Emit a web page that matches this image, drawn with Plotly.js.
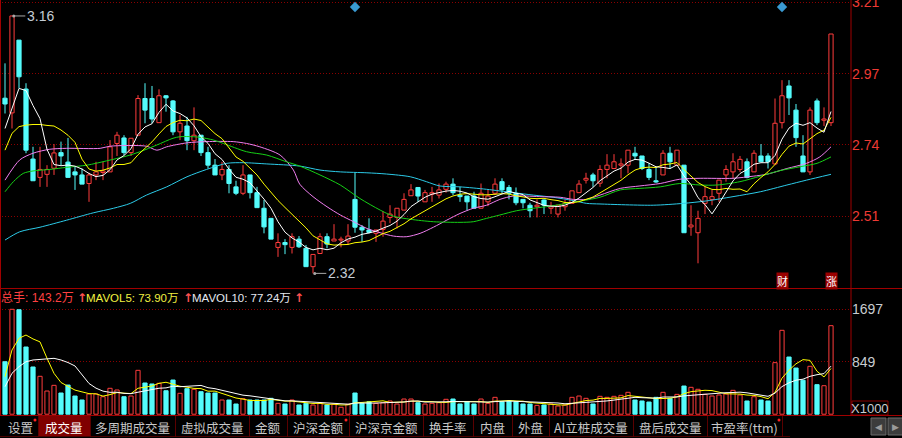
<!DOCTYPE html>
<html><head><meta charset="utf-8">
<script src="https://cdn.plot.ly/plotly-3.0.1.min.js"></script>
<style>html,body{margin:0;padding:0;background:#000;overflow:hidden}#chart{width:902px;height:438px}</style>
</head><body><div id="chart"></div>
<script>
// ---------------- DATA ----------------
const openP = [2.893,2.845,3.083,2.923,2.694,2.634,2.644,2.664,2.715,2.684,
2.652,2.642,2.614,2.642,2.650,2.652,2.745,2.763,2.715,2.772,
2.892,2.892,2.813,2.901,2.884,2.783,2.802,2.754,2.772,2.715,
2.674,2.642,2.660,2.603,2.582,2.642,2.584,2.533,2.500,2.405,
2.421,2.405,2.432,2.402,2.342,2.385,2.440,2.426,2.429,2.426,
2.562,2.471,2.462,2.451,2.464,2.503,2.503,2.527,2.574,2.601,
2.554,2.579,2.576,2.595,2.612,2.576,2.573,2.573,2.533,2.554,
2.582,2.620,2.601,2.582,2.562,2.543,2.538,2.560,2.533,2.514,
2.538,2.549,2.584,2.625,2.642,2.615,2.660,2.663,2.674,2.674,
2.713,2.704,2.660,2.623,2.642,2.713,2.674,2.674,2.472,2.453,
2.549,2.562,2.582,2.642,2.652,2.660,2.685,2.652,2.704,2.704,
2.678,2.813,2.933,2.854,2.704,2.652,2.884,2.821,2.813];
const closeP = [2.874,3.162,2.963,2.723,2.623,2.660,2.660,2.714,2.704,2.634,
2.642,2.612,2.642,2.652,2.655,2.734,2.772,2.715,2.762,2.892,
2.854,2.825,2.901,2.894,2.783,2.811,2.754,2.772,2.715,2.674,
2.642,2.660,2.614,2.582,2.642,2.584,2.535,2.472,2.432,2.421,
2.414,2.440,2.407,2.342,2.382,2.440,2.416,2.432,2.432,2.442,
2.471,2.462,2.454,2.462,2.491,2.514,2.533,2.562,2.593,2.573,
2.584,2.584,2.593,2.612,2.584,2.571,2.554,2.533,2.582,2.573,
2.612,2.593,2.582,2.551,2.551,2.525,2.543,2.543,2.538,2.543,
2.549,2.590,2.612,2.631,2.623,2.660,2.674,2.685,2.678,2.723,
2.704,2.663,2.634,2.619,2.713,2.685,2.723,2.453,2.478,2.500,
2.571,2.571,2.625,2.660,2.685,2.693,2.634,2.713,2.685,2.685,
2.811,2.901,2.894,2.764,2.652,2.854,2.813,2.825,3.103];
const highP = [3.007,3.162,3.083,2.942,2.734,2.734,2.674,2.743,2.751,2.763,
2.669,2.663,2.649,2.685,2.685,2.756,2.783,2.772,2.762,2.903,
2.942,2.933,2.922,2.903,2.887,2.838,2.832,2.863,2.772,2.734,
2.694,2.685,2.674,2.623,2.674,2.642,2.603,2.560,2.500,2.451,
2.432,2.451,2.442,2.413,2.382,2.451,2.451,2.481,2.440,2.481,
2.649,2.478,2.500,2.462,2.524,2.543,2.533,2.582,2.612,2.601,
2.593,2.603,2.614,2.620,2.631,2.603,2.573,2.587,2.614,2.593,
2.631,2.631,2.609,2.601,2.562,2.551,2.562,2.562,2.554,2.543,
2.560,2.590,2.625,2.649,2.649,2.674,2.710,2.710,2.696,2.723,
2.734,2.704,2.680,2.669,2.723,2.734,2.723,2.674,2.543,2.525,
2.603,2.593,2.625,2.674,2.713,2.704,2.696,2.723,2.743,2.713,
2.892,2.952,2.952,2.874,2.772,2.863,2.892,2.863,3.103];
const lowP = [2.843,2.794,2.926,2.713,2.623,2.603,2.603,2.642,2.674,2.634,
2.593,2.612,2.554,2.625,2.625,2.652,2.704,2.707,2.704,2.772,
2.811,2.811,2.813,2.849,2.772,2.756,2.723,2.723,2.704,2.663,
2.642,2.625,2.582,2.576,2.576,2.565,2.535,2.451,2.432,2.374,
2.383,2.385,2.403,2.342,2.320,2.385,2.402,2.426,2.405,2.413,
2.453,2.423,2.451,2.423,2.440,2.484,2.467,2.527,2.574,2.554,
2.554,2.554,2.565,2.584,2.576,2.554,2.525,2.533,2.533,2.540,
2.576,2.582,2.562,2.543,2.533,2.503,2.503,2.514,2.514,2.503,
2.525,2.549,2.584,2.614,2.603,2.603,2.631,2.663,2.631,2.647,
2.691,2.658,2.625,2.616,2.642,2.663,2.674,2.453,2.443,2.353,
2.514,2.543,2.554,2.620,2.631,2.652,2.631,2.652,2.685,2.663,
2.674,2.794,2.838,2.734,2.652,2.642,2.805,2.802,2.802];
// volume in units of 1000 shares (X1000)
const volume = [849,1697,1690,1087,764,613,375,467,343,472,
294,230,327,327,283,419,392,283,294,710,
505,489,500,380,553,338,413,403,364,343,
343,230,230,165,251,230,230,230,257,176,
165,230,149,176,149,176,149,160,112,160,
343,176,202,176,186,214,165,246,246,186,
165,176,186,241,246,165,202,165,246,176,
273,202,214,202,165,165,143,149,165,133,
149,273,294,257,165,289,273,289,305,354,
230,214,197,273,354,257,321,456,435,403,
321,294,311,327,386,311,214,283,230,214,
834,1357,925,747,550,775,478,461,1432];

// moving-average values before the window is full (they use earlier history)
const ma5Early  = [2.794,2.858,2.925,2.918];
const ma10Early = [2.723,2.778,2.800,2.805,2.807,2.807,2.804,2.802,2.789];
const mavol5Early  = [607,1039,1228,1281];
const mavol10Early = [445,662,769,849,877,888,904,904,877];

// longer moving averages (day index, price)
const ma20Idx = [0,1.2,2.6,4,6.4,8.8,11.7,14.5,17.4,19.3,21.7,24,25,26.9,27.9,29.8,31.2,34.5,37.4,40.2,42.1,45,47.9,50.7,53.6,55.5,57.9,61.2,65,66.9,68.8,70.7,73.1,75.5,77.9,80.2,82.6,85,87.9,90.7,93.6,96.4,99.3,101.7,105,107.9,110.7,113.6,116,118];
const ma20Val = [2.587,2.620,2.647,2.655,2.660,2.667,2.674,2.688,2.704,2.718,2.740,2.762,2.767,2.767,2.765,2.756,2.745,2.718,2.707,2.685,2.671,2.642,2.609,2.565,2.527,2.507,2.497,2.489,2.487,2.489,2.500,2.511,2.525,2.533,2.540,2.549,2.558,2.569,2.593,2.598,2.603,2.614,2.609,2.609,2.620,2.638,2.656,2.669,2.680,2.701];
const ma30Idx = [0,2.1,4,6.4,8.8,13.6,15,20.2,21.7,23.1,26,28.8,32.6,34.5,36.4,39.3,41.2,42.1,44,46,47.9,49.8,51.7,53.6,55.5,57.4,59.3,61.2,63.1,65,66.9,68.8,70.7,72.6,74.5,76.4,79.3,81.2,83.1,85,87.9,90.7,93.6,96.4,99.3,104,106.9,108.8,111.7,114.5,116.4,118];
const ma30Val = [2.625,2.691,2.713,2.726,2.729,2.729,2.736,2.736,2.723,2.734,2.747,2.751,2.751,2.745,2.734,2.707,2.658,2.612,2.571,2.538,2.511,2.489,2.467,2.453,2.442,2.440,2.451,2.471,2.494,2.516,2.533,2.543,2.562,2.573,2.573,2.571,2.569,2.562,2.562,2.576,2.598,2.606,2.614,2.628,2.631,2.631,2.638,2.644,2.663,2.680,2.701,2.734];
const ma60Idx = [0,2.1,5,8.8,12.6,15.5,17.9,20.2,23.1,26,28.8,31.7,34.1,37.4,42.1,45,47.9,51.7,54.5,57.9,60.2,62.1,65,68.8,72.6,75.5,78.3,81.2,83.1,85,92.6,96.9,100.2,104,107.9,111.7,114.5,118];
const ma60Val = [2.429,2.456,2.471,2.494,2.518,2.533,2.549,2.576,2.603,2.636,2.660,2.680,2.682,2.678,2.671,2.658,2.652,2.649,2.645,2.636,2.620,2.606,2.603,2.595,2.584,2.576,2.569,2.558,2.549,2.547,2.543,2.549,2.557,2.571,2.587,2.609,2.625,2.644];

const eventIdx = [50,111];
const badgeIdx = [111,118];
const badgeText = ['财','涨'];
const legendTotal = '143.2万', legendMav5 = '73.90万', legendMav10 = '77.24万';
const priceTicks = [2.5067,2.74,2.9733,3.2067];
const volTicks = [849,1697];
const tabLabels = ['设置','成交量','多周期成交量','虚拟成交量','金额','沪深金额','沪深京金额','换手率','内盘','外盘','AI立桩成交量','盘后成交量','市盈率(ttm)'];
const tabDot = [true,false,false,false,false,true,false,false,false,false,false,false,true];
const tabSelected = 1;

// ---------------- LAYOUT GEOMETRY ----------------
const L = 2, R = 851, H = 416, W = 902;
const px = x => (x - L) / (R - L);
const py = y => (H - y) / H;
const tabEdges = [2,38,90,175,249,287,349,423,473,512,549,633,707,782];
const FONT = "Arial, 'Liberation Sans', 'Noto Sans CJK SC', sans-serif";
const CJK = "'Noto Sans CJK SC', Arial, sans-serif";
const UP = '#ff3c3c', DN = '#54fcfc', GRID = '#8a0000', FRAME = '#a00000';

const N = closeP.length;
const idx = [...Array(N).keys()];
const isUp = idx.map(i => closeP[i] >= openP[i]);

function movAvg(arr, n, early) {
  return arr.map((v, i) => {
    if (i < n - 1) return early[i];
    let s = 0; for (let k = i - n + 1; k <= i; k++) s += arr[k];
    return s / n;
  });
}
const ma5 = movAvg(closeP, 5, ma5Early);
const ma10 = movAvg(closeP, 10, ma10Early);
const mavol5 = movAvg(volume, 5, mavol5Early);
const mavol10 = movAvg(volume, 10, mavol10Early);

const traces = [];
function wick(up) {
  const xs = [], ys = [];
  idx.forEach(i => {
    if (isUp[i] !== up) return;
    const top = Math.max(openP[i], closeP[i]), bot = Math.min(openP[i], closeP[i]);
    xs.push(i, i, null, i, i, null);
    ys.push(highP[i], top, null, bot, lowP[i], null);
  });
  return {type:'scatter', mode:'lines', x:xs, y:ys, line:{color: up?UP:DN, width:1},
    xaxis:'x', yaxis:'y', hoverinfo:'skip', showlegend:false};
}
function body(up) {
  const xs = [], base = [], h = [];
  idx.forEach(i => {
    if (isUp[i] !== up) return;
    xs.push(i);
    base.push(Math.min(openP[i], closeP[i]));
    h.push(Math.max(Math.abs(closeP[i] - openP[i]), 0.0012));
  });
  return {type:'bar', x:xs, base:base, y:h, width:0.6,
    marker:{color: up?'#000000':DN, line:{color: up?UP:DN, width:1}},
    xaxis:'x', yaxis:'y', hoverinfo:'skip', showlegend:false};
}
function volBars(up) {
  const xs = [], ys = [];
  idx.forEach(i => { if (isUp[i] === up) { xs.push(i); ys.push(volume[i]); } });
  return {type:'bar', x:xs, y:ys, width:0.6,
    marker:{color: up?'#000000':DN, line:{color: up?UP:DN, width:1}},
    xaxis:'x', yaxis:'y2', hoverinfo:'skip', showlegend:false};
}
traces.push(body(true), body(false), volBars(true), volBars(false));
traces.push(wick(true), wick(false));

function line(x, y, color, ax, spline) {
  return {type:'scatter', mode:'lines', x:x, y:y,
    line:{color:color, width:1, shape: spline?'spline':'linear', smoothing: spline?0.8:undefined},
    xaxis:'x', yaxis:ax, hoverinfo:'skip', showlegend:false};
}
traces.push(line(ma60Idx, ma60Val, '#2ccbe8', 'y', true));
traces.push(line(ma30Idx, ma30Val, '#f07ef0', 'y', true));
traces.push(line(ma20Idx, ma20Val, '#16d016', 'y', true));
traces.push(line(idx, ma10, '#ffff00', 'y', false));
traces.push(line(idx, ma5, '#ffffff', 'y', false));
traces.push(line(idx, mavol5, '#ffff00', 'y2', false));
traces.push(line(idx, mavol10, '#ffffff', 'y2', false));

const yTop = 3.2142, yBot = 2.2722;
traces.push({type:'scatter', mode:'markers', x:eventIdx, y:eventIdx.map(() => yTop - 0.023),
  marker:{symbol:'diamond', size:8, color:'#3a9ad2'}, xaxis:'x', yaxis:'y', hoverinfo:'skip', showlegend:false});

// ---------------- SHAPES & ANNOTATIONS ----------------
const shapes = [], ann = [];
const pl = (x0,y0,x1,y1,color,width,dash) => shapes.push({type:'line', xref:'paper', yref:'paper',
  x0:px(x0), y0:py(y0), x1:px(x1), y1:py(y1), line:{color:color, width:width||1, dash:dash||'solid'}, layer:'above'});
const prect = (x0,y0,x1,y1,fill,lc) => shapes.push({type:'rect', xref:'paper', yref:'paper',
  x0:px(x0), y0:py(y0), x1:px(x1), y1:py(y1), fillcolor:fill, line:{color:lc||fill, width: lc?1:0}, layer:'below'});
const ptext = (x,y,text,color,size,xanchor,family,extra) => ann.push(Object.assign({xref:'paper', yref:'paper',
  x:px(x), y:py(y), text:text, showarrow:false, xanchor:xanchor||'left', yanchor:'middle',
  font:{family:family||FONT, size:size||13, color:color}, borderpad:0}, extra||{}));

// frame
pl(0.5,0,0.5,416,FRAME,1);
pl(R,0,R,416,FRAME,1);
pl(0,288.5,W,288.5,FRAME,1);
pl(0,415.5,W,415.5,FRAME,1);

// max / min markers
let imax = 0, imin = 0;
idx.forEach(i => { if (highP[i] > highP[imax]) imax = i; if (lowP[i] < lowP[imin]) imin = i; });
[[imax, highP[imax]], [imin, lowP[imin]]].forEach(([i, v]) => {
  shapes.push({type:'line', xref:'x', yref:'y', x0:i+0.15, x1:i+1.9, y0:v, y1:v, line:{color:'#a8a8a8', width:1}});
  shapes.push({type:'circle', xref:'x', yref:'y', xsizemode:'pixel', ysizemode:'pixel', xanchor:i+0.25, yanchor:v,
    x0:-1.5, x1:1.5, y0:-1.5, y1:1.5, fillcolor:'#a8a8a8', line:{width:0}});
  ann.push({xref:'x', yref:'y', x:i+1.9, y:v, text:v.toFixed(2), showarrow:false, xanchor:'left', yanchor:'middle',
    font:{family:FONT, size:14, color:'#c4ccd4'}, borderpad:0, xshift:1});
});

// badges
badgeIdx.forEach((b, k) => ann.push({xref:'x', yref:'paper', x:b, y:py(280.5), text:badgeText[k], showarrow:false,
  xanchor:'center', yanchor:'middle', bgcolor:'#9a0000', borderpad:0,
  font:{family:CJK, size:11, color:'#ffffff'}}));

// volume legend
const ARW = "'DejaVu Sans', sans-serif";
ptext(0, 298, '总手: ' + legendTotal, '#ff4040', 12, 'left', FONT);
ptext(76, 298, '<b>↑</b>', '#ff5050', 12, 'left', ARW);
ptext(85, 298, 'MAVOL5: ' + legendMav5, '#f0f040', 11.5, 'left', FONT);
ptext(182, 298, '<b>↑</b>', '#ff5050', 12, 'left', ARW);
ptext(191, 298, 'MAVOL10: ' + legendMav10, '#e4e8f0', 11.5, 'left', FONT);
ptext(293, 298, '<b>↑</b>', '#ff5050', 12, 'left', ARW);

// X1000 box
prect(852, 401, 888, 415, 'rgba(0,0,0,0)', '#8a0000');
ptext(870, 408.5, 'X1000', '#c8ccd0', 13, 'center', FONT);

// tab bar
pl(0, 436.5, 790, 436.5, '#4a0000', 1);
for (let k = 0; k < tabLabels.length; k++) {
  const x0 = tabEdges[k], x1 = tabEdges[k+1];
  if (k === tabSelected) prect(x0+1, 416, x1, 436, '#800000');
  pl(x1+0.5, 416, x1+0.5, 437, '#5a0000', 1);
  ptext((x0 + x1) / 2, 427, tabLabels[k], k === tabSelected ? '#ffffff' : '#c8c8c8', 12.5, 'center', CJK);
  if (tabDot[k]) shapes.push({type:'circle', xref:'paper', yref:'paper', x0:px(x1-4.5), x1:px(x1-1.5),
    y0:py(421.5), y1:py(418.5), fillcolor:'#ff2020', line:{width:0}});
}
prect(871, 418, 886, 435, '#3c3c3c', '#6a6a6a');
prect(888, 418, 903, 435, '#3c3c3c', '#6a6a6a');
ptext(878.5, 426.5, '◀', '#9a9a9a', 9, 'center', ARW);
ptext(895.5, 426.5, '▶', '#9a9a9a', 9, 'center', ARW);

const layout = {
  width: W, height: 438,
  margin: {l: L, r: W - R, t: 0, b: 438 - H},
  paper_bgcolor: '#000000', plot_bgcolor: '#000000',
  barmode: 'overlay', showlegend: false,
  xaxis: {range: [-(5 - L) / 7, (R - 5) / 7], showgrid:false, zeroline:false, showticklabels:false,
    ticks:'', showline:false, anchor:'y2', fixedrange:true},
  yaxis: {domain: [(H - 288) / H, 1], range: [yBot, yTop], side:'right', tickvals: priceTicks, tickformat:'.2f',
    showgrid:true, gridcolor:GRID, griddash:'1px,2px', gridwidth:1, zeroline:false, showline:false, ticks:'',
    ticklabeloverflow:'allow',
    tickfont:{family:FONT, size:14, color:'#ee3a34'}, fixedrange:true},
  yaxis2: {domain: [0, (H - 291) / H], range: [-29, 1993], side:'right', tickvals: volTicks, tickformat:'d',
    showgrid:true, gridcolor:GRID, griddash:'1px,2px', gridwidth:1, zeroline:false, showline:false, ticks:'',
    ticklabeloverflow:'allow',
    tickfont:{family:FONT, size:14, color:'#c8ccd0'}, fixedrange:true},
  shapes: shapes, annotations: ann,
  font: {family: FONT}
};
Plotly.newPlot('chart', traces, layout, {staticPlot:true, displayModeBar:false});
</script>
</body></html>
